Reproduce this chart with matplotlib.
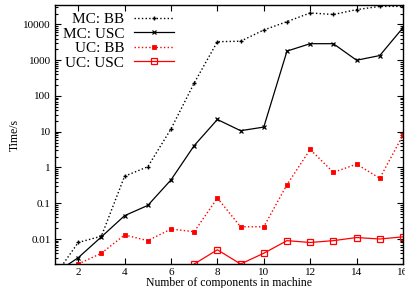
import matplotlib
matplotlib.use("Agg")
import matplotlib.pyplot as plt
from matplotlib.ticker import LogLocator, NullFormatter, FixedLocator

plt.rcParams['font.family'] = ['Liberation Serif', 'DejaVu Serif']

x_mc_bb = [1, 2, 3, 4, 5, 6, 7, 8, 9, 10, 11, 12, 13, 14, 15, 16]
mc_bb = [0.00095, 0.008, 0.012, 0.57, 1.05, 12, 230, 3300, 3400, 7000, 12000,
         21000, 19000, 26000, 32000, 32000]
x_mc_usc = [1, 2, 3, 4, 5, 6, 7, 8, 9, 10, 11, 12, 13, 14, 15, 16]
mc_usc = [0.0011, 0.003, 0.0115, 0.045, 0.087, 0.45, 4.1, 22, 10.7, 13.5, 1800,
          2900, 2900, 1000, 1350, 8100]
x_uc_bb = [2, 3, 4, 5, 6, 7, 8, 9, 10, 11, 12, 13, 14, 15, 16]
uc_bb = [0.002, 0.004, 0.013, 0.009, 0.019, 0.016, 0.14, 0.022, 0.022, 0.33,
         3.2, 0.73, 1.24, 0.5, 8.0]
x_uc_usc = [7, 8, 9, 10, 11, 12, 13, 14, 15, 16]
uc_usc = [0.002, 0.005, 0.002, 0.004, 0.009, 0.008, 0.009, 0.011, 0.010, 0.0115]

x_ticks = [2, 4, 6, 8, 10, 12, 14, 16]
y_ticks = [0.01, 0.1, 1, 10, 100, 1000, 10000]
y_tick_labels = ['0.01', '0.1', '1', '10', '100', '1000', '10000']

fig = plt.figure(figsize=(4.06, 2.88), dpi=100)
ax = fig.add_axes([0.1355, 0.0833, 0.857, 0.8993])

ax.plot(x_mc_bb, mc_bb, color='black', linestyle=':', linewidth=1.0,
        marker='+', markersize=3.5, markeredgewidth=1.0, label='MC: BB')
ax.plot(x_mc_usc, mc_usc, color='black', linestyle='-', linewidth=0.9,
        marker='x', markersize=3, markeredgewidth=0.9, label='MC: USC')
ax.plot(x_uc_bb, uc_bb, color='#ff0000', linestyle=':', linewidth=1.0,
        marker='s', markersize=3, markeredgewidth=0.6, label='UC: BB')
ax.plot(x_uc_usc, uc_usc, color='#ff0000', linestyle='-', linewidth=0.9,
        marker='s', markersize=4, markerfacecolor='none', markeredgewidth=0.9,
        label='UC: USC')

ax.set_yscale('log')
ax.set_xlim(1, 16)
ax.set_ylim(0.002, 35000)

ax.xaxis.set_major_locator(FixedLocator(x_ticks))
ax.set_xticklabels([str(v) for v in x_ticks])
ax.yaxis.set_major_locator(FixedLocator(y_ticks))
ax.set_yticklabels(y_tick_labels)
ax.yaxis.set_minor_locator(LogLocator(base=10, subs=range(2, 10), numticks=20))
ax.yaxis.set_minor_formatter(NullFormatter())

ax.tick_params(which='both', direction='in', top=True, right=True, labelsize=8,
               width=0.8, pad=3)
ax.tick_params(which='major', length=4)
ax.tick_params(which='minor', length=2)
for s in ax.spines.values():
    s.set_linewidth(1.0)

ax.set_xlabel('Number of components in machine', fontsize=8.5, labelpad=0)
ax.set_ylabel('Time/s', fontsize=8.5, labelpad=2)

leg = ax.legend(loc='upper left', frameon=False, markerfirst=False, fontsize=11,
                handlelength=2.6, handletextpad=0.65, labelspacing=0.05,
                borderaxespad=0.1, bbox_to_anchor=(0.0, 1.0))

fig.savefig('out.png', dpi=100)
